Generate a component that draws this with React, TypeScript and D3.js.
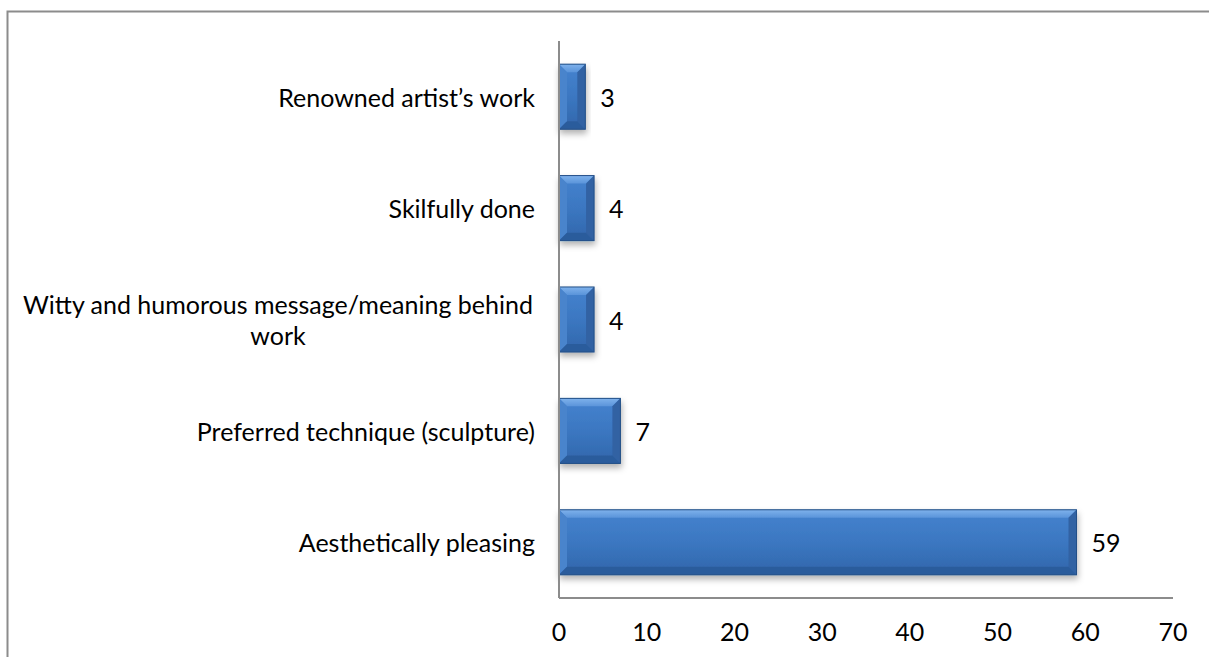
import React from "react";
import * as d3 from "d3";

const categories: string[] = [
  "Renowned artist\u2019s work",
  "Skilfully done",
  "Witty and humorous message/meaning behind work",
  "Preferred technique (sculpture)",
  "Aesthetically pleasing",
];
const values: number[] = [3, 4, 4, 7, 59];
const categoryLines: string[][] = [
  ["Renowned artist\u2019s work"],
  ["Skilfully done"],
  ["Witty and humorous message/meaning behind", "work"],
  ["Preferred technique (sculpture)"],
  ["Aesthetically pleasing"],
];
const xTicks: number[] = [0, 10, 20, 30, 40, 50, 60, 70];

const W = 1209;
const H = 657;
const FONT = "Lato, 'Open Sans', sans-serif";
const FS = 25;

export default function App() {
  const left = 559;
  const right = 1173;
  const top = 41;
  const bottom = 598;

  const x = d3.scaleLinear().domain([0, 70]).range([left, right]);
  const y = d3
    .scaleBand<string>()
    .domain(categories)
    .range([top, bottom])
    .paddingInner(0.416)
    .paddingOuter(0.208);

  const bars = categories.map((c, i) => {
    const x0 = x(0);
    const x1 = x(values[i]);
    const y0 = y(c) as number;
    const h = y.bandwidth();
    const y1 = y0 + h;
    const w = x1 - x0;
    const b = Math.min(8, w / 2, h / 2);
    return { c, v: values[i], x0, x1, y0, y1, w, h, b, i };
  });

  return (
    <svg
      width={W}
      height={H}
      style={{ position: "absolute", left: 0, top: 0, background: "#fff" }}
    >
      <defs>
        <linearGradient id="base" x1="0" y1="0" x2="0" y2="1">
          <stop offset="0" stopColor="#4683cf" />
          <stop offset="0.5" stopColor="#3b77c1" />
          <stop offset="1" stopColor="#3166ab" />
        </linearGradient>
        <linearGradient id="topbev" x1="0" y1="0" x2="0" y2="1">
          <stop offset="0" stopColor="#7fb2ec" />
          <stop offset="1" stopColor="#5a94da" />
        </linearGradient>
        <filter id="shadow" x="-20%" y="-20%" width="140%" height="150%">
          <feDropShadow dx="1" dy="4" stdDeviation="3" floodColor="#000" floodOpacity="0.3" />
        </filter>
      </defs>

      {/* chart border */}
      <rect x={7.5} y={11.5} width={W + 10} height={H + 10} fill="none" stroke="#8c8c8c" strokeWidth={2} />

      {/* bars */}
      {bars.map((d) => (
        <g key={d.c} filter="url(#shadow)">
          <rect x={d.x0} y={d.y0} width={d.w} height={d.h} fill="url(#base)" />
          <polygon
            points={`${d.x0},${d.y0} ${d.x1},${d.y0} ${d.x1 - d.b},${d.y0 + d.b} ${d.x0 + d.b},${d.y0 + d.b}`}
            fill="url(#topbev)"
          />
          <polygon
            points={`${d.x0},${d.y0} ${d.x0 + d.b},${d.y0 + d.b} ${d.x0 + d.b},${d.y1 - d.b} ${d.x0},${d.y1}`}
            fill="#4884cc"
          />
          <polygon
            points={`${d.x1},${d.y0} ${d.x1 - d.b},${d.y0 + d.b} ${d.x1 - d.b},${d.y1 - d.b} ${d.x1},${d.y1}`}
            fill="#3262a3"
          />
          <polygon
            points={`${d.x0},${d.y1} ${d.x0 + d.b},${d.y1 - d.b} ${d.x1 - d.b},${d.y1 - d.b} ${d.x1},${d.y1}`}
            fill="#2c5c9c"
          />
          <rect x={d.x0} y={d.y0} width={d.w} height={d.h} fill="none" stroke="#234f87" strokeWidth={1} />
        </g>
      ))}

      {/* axes */}
      <line x1={x(0)} x2={x(0)} y1={top} y2={bottom} stroke="#8c8c8c" strokeWidth={2} />
      <line x1={x(0)} x2={right} y1={bottom} y2={bottom} stroke="#8c8c8c" strokeWidth={2} />

      {/* x tick labels */}
      {xTicks.map((t) => (
        <text
          key={t}
          x={x(t)}
          y={641}
          textAnchor="middle"
          fontFamily={FONT}
          fontSize={FS}
          fill="#000"
        >
          {t}
        </text>
      ))}

      {/* value labels */}
      {bars.map((d) => (
        <text
          key={"v" + d.c}
          x={d.x1 + 15}
          y={d.y0 + d.h / 2}
          dominantBaseline="central"
          fontFamily={FONT}
          fontSize={FS}
          fill="#000"
        >
          {d.v}
        </text>
      ))}

      {/* category labels */}
      {categories.map((c, i) => {
        const lines = categoryLines[i];
        const cy = (y(c) as number) + y.bandwidth() / 2;
        const lh = 31;
        const multi = lines.length > 1;
        return (
          <text
            key={"c" + c}
            fontFamily={FONT}
            fontSize={FS}
            fill="#000"
            textAnchor={multi ? "middle" : "end"}
          >
            {lines.map((ln, k) => (
              <tspan
                key={k}
                x={multi ? 278 : 535}
                y={cy + (k - (lines.length - 1) / 2) * lh}
                dominantBaseline="central"
              >
                {ln}
              </tspan>
            ))}
          </text>
        );
      })}
    </svg>
  );
}
